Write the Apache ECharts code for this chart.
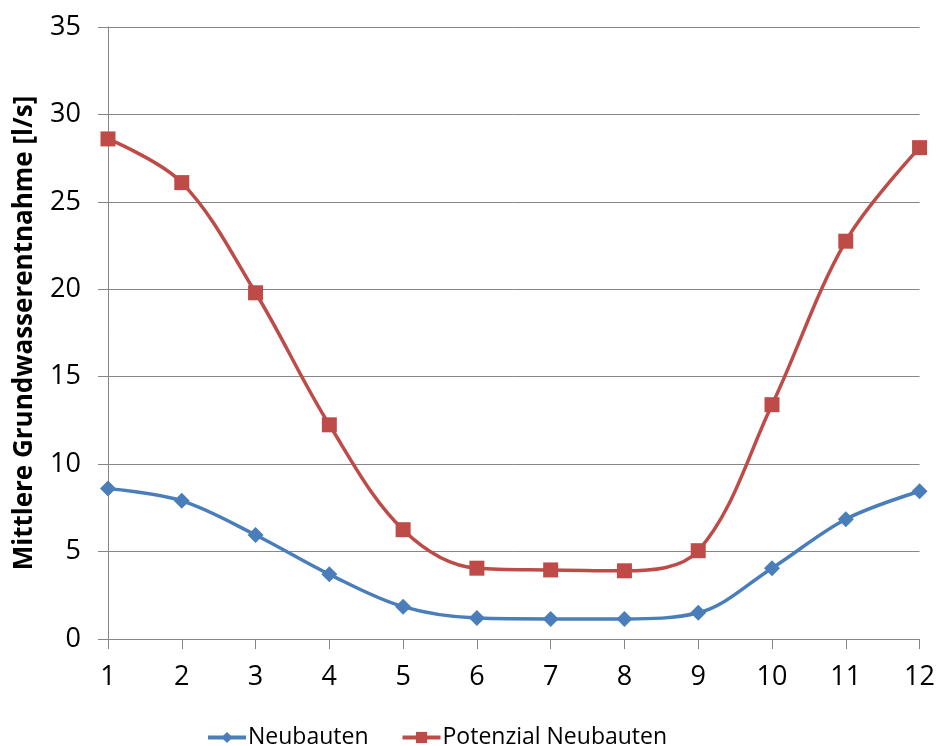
<!DOCTYPE html>
<html><head><meta charset="utf-8">
<script src="https://cdn.jsdelivr.net/npm/echarts@6/dist/echarts.min.js"></script>
<style>html,body{margin:0;padding:0;background:#fff}#c{width:938px;height:746px}</style>
</head><body><div id="c"></div>
<script>
const categories = ['1','2','3','4','5','6','7','8','9','10','11','12'];
const neubauten = [8.6, 7.9, 5.95, 3.7, 1.85, 1.2, 1.15, 1.15, 1.5, 4.05, 6.85, 8.45];
const potenzial = [28.6, 26.1, 19.8, 12.25, 6.25, 4.05, 3.95, 3.9, 5.05, 13.4, 22.75, 28.1];
const seriesNames = ['Neubauten', 'Potenzial Neubauten'];
const yAxisTitle = 'Mittlere Grundwasserentnahme [l/s]';

const font = '"Open Sans", "Liberation Sans", sans-serif';
const chart = echarts.init(document.getElementById('c'));
chart.setOption({
  animation: false,
  grid: {left: 108, right: 18, top: 27, bottom: 107, containLabel: false},
  legend: {
    top: 721, left: 201, itemGap: 32, itemWidth: 38, itemHeight: 14,
    lineStyle: {width: 4},
    textStyle: {fontFamily: font, fontSize: 23, color: '#000', padding: [0, 0, 0, -3]},
    data: seriesNames
  },
  xAxis: {
    type: 'category', data: categories, boundaryGap: false,
    axisLine: {lineStyle: {color: '#868686', width: 1}},
    axisTick: {show: true, length: 10, alignWithLabel: true, lineStyle: {color: '#868686'}},
    axisLabel: {fontFamily: font, fontSize: 27, color: '#000', margin: 25},
    splitLine: {show: false}
  },
  yAxis: {
    type: 'value', min: 0, max: 35, interval: 5,
    name: yAxisTitle, nameLocation: 'middle', nameGap: 70, nameRotate: 90,
    nameTextStyle: {fontFamily: font, fontSize: 26, fontWeight: 'bold', color: '#000'},
    axisLine: {show: true, lineStyle: {color: '#868686', width: 1}},
    axisTick: {show: true, length: 10, lineStyle: {color: '#868686'}},
    axisLabel: {fontFamily: font, fontSize: 27, color: '#000', margin: 27},
    splitLine: {show: true, lineStyle: {color: '#868686', width: 1}}
  },
  series: [
    {
      name: seriesNames[0], type: 'line', data: neubauten, smooth: 0.35,
      symbol: 'diamond', symbolSize: 16,
      lineStyle: {color: '#4A7EBB', width: 3.5},
      itemStyle: {color: '#4A7EBB'}
    },
    {
      name: seriesNames[1], type: 'line', data: potenzial, smooth: 0.35,
      symbol: 'rect', symbolSize: 15,
      lineStyle: {color: '#BE4B48', width: 3.5},
      itemStyle: {color: '#BE4B48'}
    }
  ]
});
</script>
</body></html>
